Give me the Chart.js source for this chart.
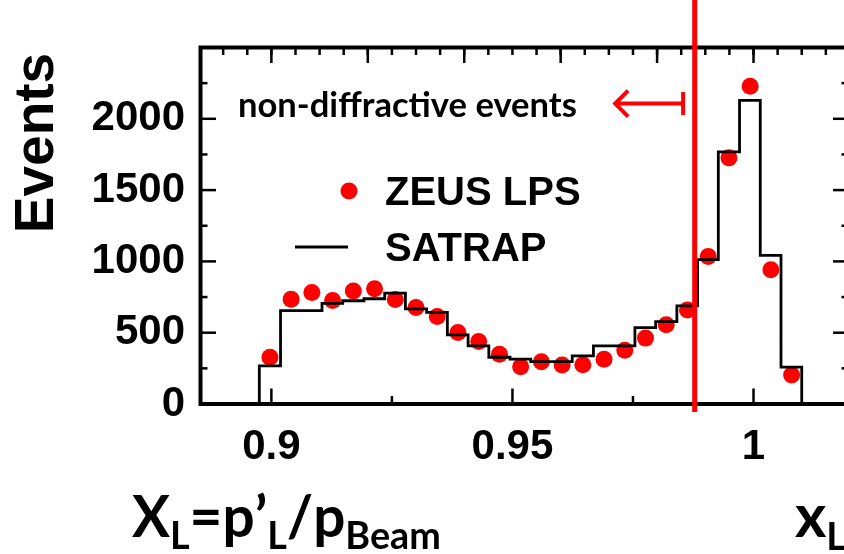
<!DOCTYPE html>
<html><head><meta charset="utf-8">
<script src="https://cdn.jsdelivr.net/npm/chart.js@4/dist/chart.umd.min.js"></script>
<style>
html,body{margin:0;padding:0;background:#fff;overflow:hidden;width:844px;height:554px}
#wrap{width:870px;height:554px}
</style></head>
<body><div id="wrap"><canvas id="c" width="870" height="554"></canvas></div>
<script>
// ---- data ----
const binEdges = [0.8975,0.9019,0.9062,0.9105,0.9148,0.9192,0.9235,0.9278,0.9322,0.9365,0.9408,0.9451,0.9495,0.9538,0.9581,0.9624,0.9668,0.9711,0.9754,0.9797,0.9841,0.9884,0.9927,0.9971,1.0014,1.0057,1.0100];
const satrapCounts = [267,655,655,705,724,738,778,667,643,485,407,328,314,297,297,337,407,407,536,578,688,1012,1768,2129,1042,258];
const binCenters = [0.8997,0.9041,0.9084,0.9127,0.9170,0.9214,0.9257,0.9300,0.9344,0.9387,0.9430,0.9473,0.9517,0.9560,0.9603,0.9646,0.9690,0.9733,0.9776,0.9819,0.9863,0.9906,0.9949,0.9993,1.0036,1.0079];
const zeusCounts = [328,735,782,726,792,808,733,677,613,501,438,349,262,297,274,276,314,377,462,555,660,1035,1726,2229,941,204];
const xTickValues = [0.9, 0.95, 1.0];
const xTickLabels = ['0.9', '0.95', '1'];
const xMinorTicks = [0.925, 0.975];
const topTicks = [0.89,0.895,0.9,0.905,0.91,0.915,0.92,0.925,0.93,0.935,0.94,0.945,0.95,0.955,0.96,0.965,0.97,0.975,0.98,0.985,0.99,0.995,1.0,1.005,1.01,1.015];
const topMajorTicks = [0.9,0.92,0.94,0.96,0.98,1.0];
const yTickValues = [0,500,1000,1500,2000];
const yMinorTicks = [250,750,1250,1750,2250];
const cutValue = 0.9878;
const seriesNames = ['ZEUS LPS', 'SATRAP'];
const annotationText = 'non-diffractive events';
const yTitle = 'Events';

// ---- build datasets ----
const histData = [{x: binEdges[0], y: 0}];
satrapCounts.forEach((v, i) => histData.push({x: binEdges[i], y: v}));
histData.push({x: binEdges[binEdges.length - 1], y: satrapCounts[satrapCounts.length - 1]});
histData.push({x: binEdges[binEdges.length - 1], y: 0});
const pointData = binCenters.map((x, i) => ({x: x, y: zeusCounts[i]}));

const RED = '#ff0000';
const ARIAL = "'Liberation Sans', Arial, sans-serif";
const LATO = "Lato, 'Open Sans', sans-serif";

function fitSize(ctx, text, weight, family, target, base) {
  ctx.font = weight + ' ' + base + 'px ' + family;
  return base * target / ctx.measureText(text).width;
}

const decor = {
  id: 'decor',
  afterDraw(chart) {
    const {ctx, chartArea: a, scales: {x, y}} = chart;
    ctx.save();
    // frame
    ctx.strokeStyle = '#000';
    ctx.lineWidth = 4;
    ctx.strokeRect(a.left, a.top, a.right - a.left, a.bottom - a.top);
    // inward ticks
    ctx.lineWidth = 2.5;
    const vt = (px, y0, len) => { ctx.beginPath(); ctx.moveTo(px, y0); ctx.lineTo(px, y0 + len); ctx.stroke(); };
    const ht = (py, x0, len) => { ctx.beginPath(); ctx.moveTo(x0, py); ctx.lineTo(x0 + len, py); ctx.stroke(); };
    xTickValues.forEach(v => vt(x.getPixelForValue(v), a.bottom, -15.5));
    xMinorTicks.forEach(v => vt(x.getPixelForValue(v), a.bottom, -8));
    topTicks.forEach(v => vt(x.getPixelForValue(v), a.top, 7.5));
    topMajorTicks.forEach(v => vt(x.getPixelForValue(v), a.top, 15.5));
    yTickValues.forEach(v => { const p = y.getPixelForValue(v); ht(p, a.left, 15.5); ht(p, a.right, -15.5); });
    yMinorTicks.forEach(v => { const p = y.getPixelForValue(v); ht(p, a.left, 7); ht(p, a.right, -7); });

    // annotation text + arrow
    ctx.fillStyle = '#000';
    const s = fitSize(ctx, annotationText, 'bold', LATO, 339, 28);
    ctx.font = 'bold ' + s + 'px ' + LATO;
    ctx.textAlign = 'left'; ctx.textBaseline = 'alphabetic';
    ctx.fillText(annotationText, 238, 116.5);

    const ay = y.getPixelForValue(2107);
    const ax1 = x.getPixelForValue(0.9713), ax2 = x.getPixelForValue(0.9854);
    ctx.strokeStyle = RED; ctx.lineWidth = 4; ctx.lineJoin = 'miter';
    ctx.beginPath(); ctx.moveTo(ax1 + 2, ay); ctx.lineTo(ax2, ay); ctx.stroke();
    ctx.beginPath(); ctx.moveTo(ax1 + 13, ay - 13); ctx.lineTo(ax1, ay); ctx.lineTo(ax1 + 13, ay + 13); ctx.stroke();
    ctx.beginPath(); ctx.moveTo(ax2, ay - 11.5); ctx.lineTo(ax2, ay + 11.5); ctx.stroke();

    // legend
    ctx.fillStyle = RED;
    ctx.beginPath(); ctx.arc(349, 191, 8.5, 0, Math.PI * 2); ctx.fill();
    ctx.strokeStyle = '#000'; ctx.lineWidth = 2.8;
    ctx.beginPath(); ctx.moveTo(295, 247); ctx.lineTo(348, 247); ctx.stroke();
    ctx.fillStyle = '#000';
    ctx.font = 'bold 40px ' + ARIAL;
    ctx.fillText(seriesNames[0], 385, 205);
    ctx.fillText(seriesNames[1], 385, 261);

    // y title
    ctx.save();
    ctx.translate(53, 143);
    ctx.rotate(-Math.PI / 2);
    ctx.font = 'bold 55px ' + ARIAL;
    ctx.textAlign = 'center';
    ctx.fillText(yTitle, 0, 0);
    ctx.restore();

    // x title: X_L = p'_L / p_Beam
    const pieces = [['X', 0], ['L', 1], ['=', 0], ['p', 0], ['\u2019', 0], ['L', 1], ['/', 0], ['p', 0], ['Beam', 1]];
    const mainSize = 54, subSize = 36;
    let total = 0;
    pieces.forEach(([t, sub]) => { ctx.font = 'bold ' + (sub ? subSize : mainSize) + 'px ' + LATO; total += ctx.measureText(t).width; });
    const k = 309 / total;
    let cx = 132;
    ctx.textAlign = 'left';
    pieces.forEach(([t, sub]) => {
      ctx.font = 'bold ' + ((sub ? subSize : mainSize) * k) + 'px ' + LATO;
      ctx.fillText(t, cx, sub ? 549 : 537);
      cx += ctx.measureText(t).width;
    });
    // right x_L
    ctx.font = 'bold 60px ' + LATO;
    ctx.fillText('x', 795, 537);
    const xw = ctx.measureText('x').width;
    ctx.font = 'bold 38px ' + LATO;
    ctx.fillText('L', 795 + xw, 550);

    // cut line
    const cx0 = x.getPixelForValue(cutValue);
    ctx.strokeStyle = RED; ctx.lineWidth = 5;
    ctx.beginPath(); ctx.moveTo(cx0, 0); ctx.lineTo(cx0, a.bottom + 8); ctx.stroke();
    ctx.restore();
  }
};

new Chart(document.getElementById('c'), {
  type: 'scatter',
  data: {
    datasets: [
      {type: 'line', label: seriesNames[1], data: histData, stepped: 'before', borderColor: '#000', borderWidth: 2.8,
       pointRadius: 0, fill: false, order: 0},
      {type: 'scatter', label: seriesNames[0], data: pointData, backgroundColor: RED, borderWidth: 0,
       pointRadius: 8.5, pointHoverRadius: 8.5, order: 1}
    ]
  },
  options: {
    responsive: false, animation: false, devicePixelRatio: 1,
    layout: {padding: {left: 0, top: 47.5, right: 21.5, bottom: 0}},
    plugins: {legend: {display: false}, tooltip: {enabled: false}},
    scales: {
      x: {
        type: 'linear', min: 0.8853, max: 1.0197,
        grid: {display: false, drawTicks: false}, border: {display: false},
        afterBuildTicks: s => { s.ticks = xTickValues.map(v => ({value: v})); },
        afterFit: s => { s.height = 150; },
        ticks: {padding: 18, color: '#000', font: {family: ARIAL, weight: 'bold', size: 42},
                maxRotation: 0, autoSkip: false,
                callback: v => xTickLabels[xTickValues.indexOf(v)]}
      },
      y: {
        type: 'linear', min: 0, max: 2500,
        grid: {display: false, drawTicks: false}, border: {display: false},
        afterBuildTicks: s => { s.ticks = yTickValues.map(v => ({value: v})); },
        afterFit: s => { s.width = 200.5; },
        ticks: {padding: 15.5, color: '#000', font: {family: ARIAL, weight: 'bold', size: 42},
                callback: v => String(v)}
      }
    }
  },
  plugins: [decor]
});
</script>
</body></html>
